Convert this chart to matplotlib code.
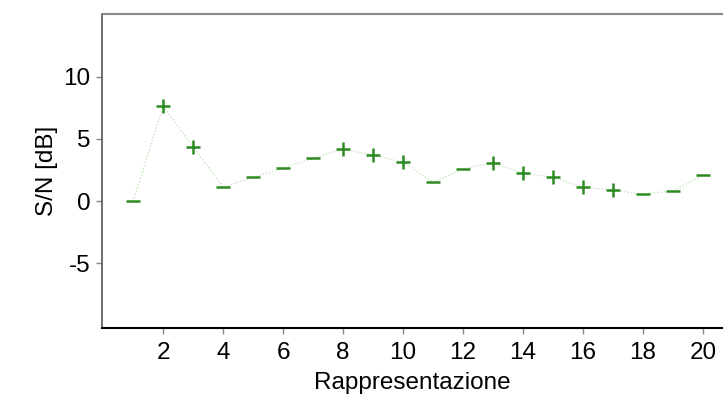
import matplotlib
matplotlib.use("Agg")
import matplotlib.pyplot as plt
import numpy as np

rappresentazione = list(range(1, 21))
sn_db = [0.0, 7.63, 4.36, 1.12, 1.90, 2.67, 3.43, 4.18, 3.69, 3.13,
         1.50, 2.59, 3.08, 2.22, 1.93, 1.12, 0.88, 0.54, 0.83, 2.09]
segno = ['-', '+', '+', '-', '-', '-', '-', '+', '+', '+',
         '-', '-', '+', '+', '+', '+', '+', '-', '-', '-']
xticks = [2, 4, 6, 8, 10, 12, 14, 16, 18, 20]
yticks = [-5, 0, 5, 10]

plt.rcParams['font.family'] = ['Liberation Sans', 'DejaVu Sans']

fig = plt.figure(figsize=(7.23, 3.94), dpi=100)
ax = fig.add_axes([0.1407, 0.1675, 0.8593, 0.7975])

ax.plot(rappresentazione, sn_db, color='#b8e0b0', lw=0.9, ls=':', zorder=2)
x = np.array(rappresentazione)
y = np.array(sn_db)
s = np.array(segno)
ax.plot(x[s == '+'], y[s == '+'], ls='none', marker='+', ms=9.5, mew=1.8,
        color='#2e8b22', zorder=3)
ax.plot(x[s == '-'], y[s == '-'], ls='none', marker='_', ms=9.5, mew=1.8,
        color='#2e8b22', zorder=3)

ax.set_xlim(-0.05, 20.67)
ax.set_ylim(-10.2, 15.05)
ax.set_xticks(xticks)
ax.set_yticks(yticks)
ax.set_xticklabels([str(t) for t in xticks])
ax.set_yticklabels([str(t) for t in yticks])
ax.tick_params(axis='x', direction='out', length=4, width=1,
               color='#888888', labelsize=17.5, pad=6)
ax.tick_params(axis='y', direction='out', length=4, width=1,
               color='#888888', labelsize=17.5, pad=4)
ax.set_xlabel('Rappresentazione', fontsize=17.5, labelpad=6)
ax.set_ylabel('S/N [dB]', fontsize=17.5, labelpad=4)

ax.spines['right'].set_visible(False)
ax.spines['top'].set_color('#888888')
ax.spines['top'].set_linewidth(1.5)
ax.spines['left'].set_color('#555555')
ax.spines['left'].set_linewidth(1.2)
ax.spines['bottom'].set_color('#000000')
ax.spines['bottom'].set_linewidth(1.5)

fig.savefig('out.png', dpi=100)
